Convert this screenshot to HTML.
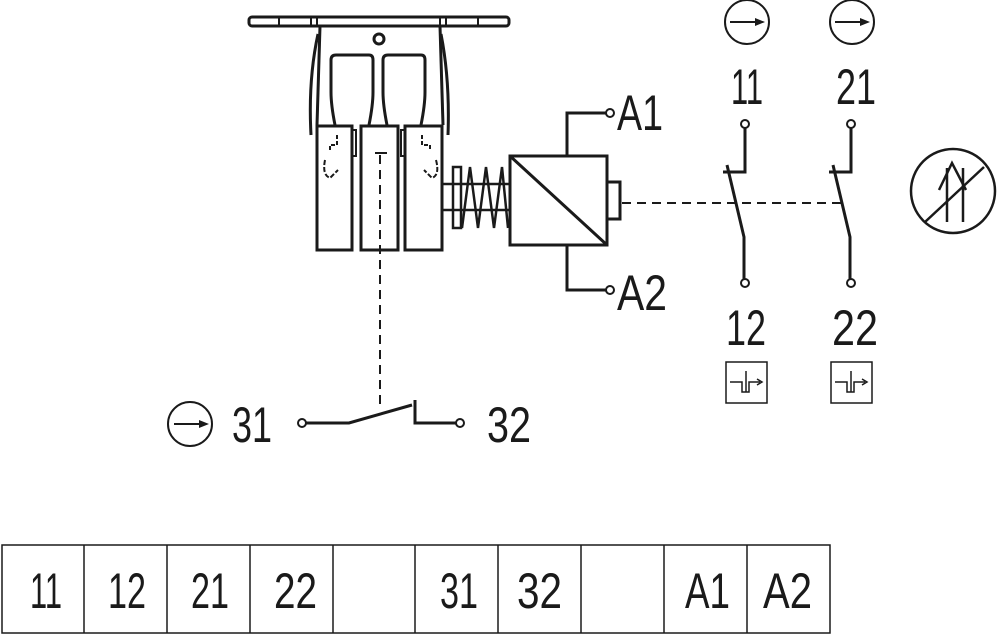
<!DOCTYPE html>
<html><head><meta charset="utf-8"><style>
html,body{margin:0;padding:0;background:#fff;}
svg{display:block}
text{font-family:"Liberation Sans",sans-serif;fill:#1a1a1a}
</style></head><body>
<svg width="1000" height="635" viewBox="0 0 1000 635" xmlns="http://www.w3.org/2000/svg">
<g fill="none" stroke="#1a1a1a" stroke-width="3" stroke-linejoin="miter">
<!-- top bar -->
<rect x="249" y="17" width="260" height="9" rx="3"/>
<line x1="279" y1="17" x2="279" y2="26" stroke-width="2"/>
<line x1="311" y1="17" x2="311" y2="26" stroke-width="2"/>
<line x1="317" y1="17" x2="317" y2="26" stroke-width="2"/>
<line x1="440" y1="17" x2="440" y2="26" stroke-width="2"/>
<line x1="446" y1="17" x2="446" y2="26" stroke-width="2"/>
<line x1="478" y1="17" x2="478" y2="26" stroke-width="2"/>
<circle cx="379" cy="39" r="5"/>
<!-- housing sides -->
<path d="M320 26 L317 125"/>
<path d="M440 26 L443 125"/>
<path d="M318 34 Q308 80 311 135"/>
<path d="M441 34 Q450 80 448 135"/>
<!-- windows -->
<path d="M335 125 Q331 105 331 92 V60 Q331 55 336 55 H369 Q373 55 373 60 V92 Q373 105 369 125"/>
<path d="M387 125 Q383 105 383 92 V60 Q383 55 388 55 H421 Q425 55 425 60 V92 Q425 105 421 125"/>
<!-- blocks -->
<rect x="317" y="126" width="35" height="124"/>
<rect x="361" y="126" width="37" height="124"/>
<rect x="405" y="126" width="37" height="124"/>
<path d="M352 130 H356 V156 H352" stroke-width="2"/>
<path d="M405 130 H401 V156 H405" stroke-width="2"/>
<path d="M337 135 V145 H330 V150" stroke-width="2" stroke-dasharray="4 2"/>
<path d="M422 135 V145 H430 V150" stroke-width="2" stroke-dasharray="4 2"/>
<path d="M325 160 Q322 175 330 178 L338 170" stroke-width="2" stroke-dasharray="5 2"/>
<path d="M436 160 Q440 175 432 178 L424 170" stroke-width="2" stroke-dasharray="5 2"/>
<path d="M375 153 H387" stroke-width="2"/>
<!-- dashed vertical -->
<line x1="380" y1="155" x2="380" y2="410" stroke-width="2" stroke-dasharray="9 6"/>
<!-- spring -->
<rect x="453" y="167" width="8" height="61" stroke-width="2.5"/>
<line x1="442" y1="184" x2="510" y2="184" stroke-width="2.5"/>
<line x1="442" y1="210" x2="510" y2="210" stroke-width="2.5"/>
<path d="M462 228 L470 167 L478 228 L486 167 L494 228 L502 167 L508 228" stroke-width="2.5"/>
<!-- coil -->
<rect x="510" y="156" width="97" height="89"/>
<line x1="510" y1="156" x2="607" y2="245"/>
<rect x="607" y="182" width="13" height="37"/>
<path d="M567 156 V113 H606"/>
<circle cx="610" cy="113" r="4" stroke-width="2"/>
<path d="M567 245 V290 H606"/>
<circle cx="610" cy="290" r="4" stroke-width="2"/>
<!-- dashed horizontal -->
<line x1="622" y1="203" x2="842" y2="203" stroke-width="2" stroke-dasharray="9 6"/>
<!-- contacts 11/12 -->
<circle cx="745" cy="124" r="4" stroke-width="2"/>
<path d="M745 128 V172 H723"/>
<path d="M727 165 L744 237 V279"/>
<circle cx="745" cy="283" r="4" stroke-width="2"/>
<circle cx="851" cy="124" r="4" stroke-width="2"/>
<path d="M851 128 V172 H829"/>
<path d="M833 165 L850 237 V279"/>
<circle cx="851" cy="283" r="4" stroke-width="2"/>
<!-- arrow circles -->
<circle cx="747" cy="22" r="22" stroke-width="2"/>
<line x1="730" y1="22" x2="762" y2="22" stroke-width="2"/>
<path d="M755 18 L765 22 L755 26 Z" fill="#1a1a1a" stroke="none"/>
<circle cx="852" cy="22" r="22" stroke-width="2"/>
<line x1="835" y1="22" x2="867" y2="22" stroke-width="2"/>
<path d="M860 18 L870 22 L860 26 Z" fill="#1a1a1a" stroke="none"/>
<circle cx="190" cy="424" r="22" stroke-width="2"/>
<line x1="174" y1="424" x2="206" y2="424" stroke-width="2"/>
<path d="M199 420 L209 424 L199 428 Z" fill="#1a1a1a" stroke="none"/>
<!-- small boxes -->
<rect x="726" y="362" width="41" height="41" stroke-width="1.5"/>
<path d="M730 382 H742 V392 H749 V382 H760" stroke-width="1.5"/>
<line x1="746" y1="371" x2="746" y2="392" stroke-width="1.5"/>
<path d="M757 379 L762 382 L757 385" stroke-width="1.5"/>
<rect x="831" y="362" width="41" height="41" stroke-width="1.5"/>
<path d="M835 382 H847 V392 H854 V382 H865" stroke-width="1.5"/>
<line x1="851" y1="371" x2="851" y2="392" stroke-width="1.5"/>
<path d="M862 379 L867 382 L862 385" stroke-width="1.5"/>
<!-- no-op circle -->
<circle cx="953" cy="191" r="42" stroke-width="2.5"/>
<line x1="925" y1="222" x2="984" y2="167" stroke-width="2.5"/>
<line x1="947" y1="222" x2="947" y2="168" stroke-width="2.5"/>
<line x1="963" y1="222" x2="963" y2="168" stroke-width="2.5"/>
<path d="M939 190 L952 163 L966 190" stroke-width="2.5"/>
<!-- 31/32 switch -->
<circle cx="302" cy="423" r="4" stroke-width="2"/>
<path d="M306 423 H349 L412 405"/>
<path d="M415 400 V423 H456"/>
<circle cx="460" cy="423" r="4" stroke-width="2"/>
<!-- table -->
<rect x="2" y="545" width="828" height="88" stroke-width="1.5"/>
<g stroke-width="1.5">
<line x1="84" y1="545" x2="84" y2="633"/><line x1="167" y1="545" x2="167" y2="633"/>
<line x1="250" y1="545" x2="250" y2="633"/><line x1="333" y1="545" x2="333" y2="633"/>
<line x1="415" y1="545" x2="415" y2="633"/><line x1="498" y1="545" x2="498" y2="633"/>
<line x1="581" y1="545" x2="581" y2="633"/><line x1="664" y1="545" x2="664" y2="633"/>
<line x1="747" y1="545" x2="747" y2="633"/>
</g>
</g>
<g font-size="50">
<text x="731" y="104" textLength="32" lengthAdjust="spacingAndGlyphs">11</text>
<text x="836" y="104" textLength="40" lengthAdjust="spacingAndGlyphs">21</text>
<text x="726" y="345" textLength="40" lengthAdjust="spacingAndGlyphs">12</text>
<text x="832" y="345" textLength="46" lengthAdjust="spacingAndGlyphs">22</text>
<text x="617" y="130" textLength="46" lengthAdjust="spacingAndGlyphs">A1</text>
<text x="617" y="310" textLength="50" lengthAdjust="spacingAndGlyphs">A2</text>
<text x="232" y="442" textLength="40" lengthAdjust="spacingAndGlyphs">31</text>
<text x="487" y="442" textLength="44" lengthAdjust="spacingAndGlyphs">32</text>
<text x="30" y="608" textLength="32" lengthAdjust="spacingAndGlyphs">11</text>
<text x="108" y="608" textLength="38" lengthAdjust="spacingAndGlyphs">12</text>
<text x="191" y="608" textLength="38" lengthAdjust="spacingAndGlyphs">21</text>
<text x="274" y="608" textLength="43" lengthAdjust="spacingAndGlyphs">22</text>
<text x="440" y="608" textLength="38" lengthAdjust="spacingAndGlyphs">31</text>
<text x="517" y="608" textLength="45" lengthAdjust="spacingAndGlyphs">32</text>
<text x="685" y="608" textLength="45" lengthAdjust="spacingAndGlyphs">A1</text>
<text x="763" y="608" textLength="49" lengthAdjust="spacingAndGlyphs">A2</text>
</g>
</svg>
</body></html>
